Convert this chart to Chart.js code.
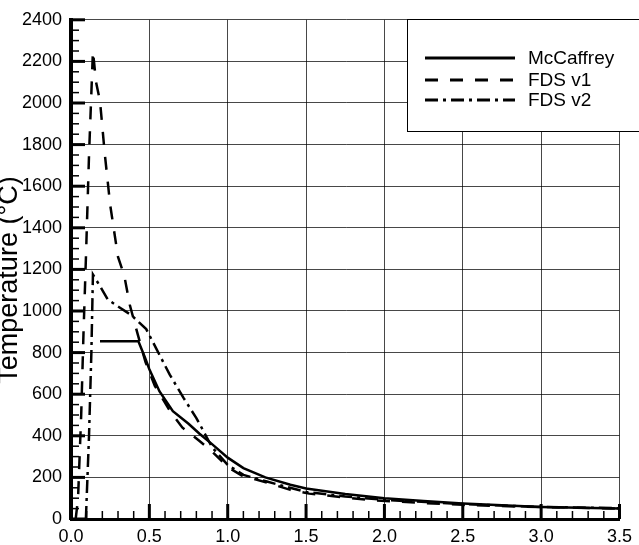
<!DOCTYPE html>
<html>
<head>
<meta charset="utf-8">
<script src="https://cdn.jsdelivr.net/npm/chart.js@4.4.1/dist/chart.umd.min.js"></script>
<style>
  html, body { margin: 0; padding: 0; background: #fff; overflow: hidden; }
  #wrap { width: 639px; height: 545px; overflow: hidden; }
</style>
</head>
<body>
<div id="wrap"><canvas id="tempChart" width="639" height="560"></canvas></div>
<script>
// distance (x) and temperature (°C)
const mcX = [0.185, 0.43, 0.47, 0.5, 0.565, 0.65, 0.75, 0.82, 0.9, 1.0, 1.1, 1.24, 1.4, 1.5, 1.75, 2.0, 2.25, 2.5, 2.75, 3.0, 3.25, 3.5];
const mcY = [855, 855, 780, 720, 613, 518, 458, 410, 360, 295, 245, 200, 165, 147, 120, 100, 86, 75, 66, 58, 54, 51];

const v1X = [0.03, 0.045, 0.065, 0.08, 0.095, 0.115, 0.13, 0.14, 0.16, 0.185, 0.215, 0.25, 0.30, 0.34, 0.375, 0.425, 0.475, 0.535, 0.635, 0.71, 0.82, 0.9, 1.0, 1.09, 1.25, 1.4, 1.52, 1.75, 1.93, 2.25, 2.5, 3.0, 3.5];
const v1Y = [0, 100, 500, 900, 1250, 1750, 2050, 2250, 2100, 2010, 1760, 1510, 1260, 1170, 1030, 890, 755, 640, 515, 440, 375, 325, 250, 209, 175, 140, 122, 103, 90, 77, 68, 57, 50];

const v2X = [0.095, 0.115, 0.13, 0.14, 0.185, 0.235, 0.31, 0.385, 0.48, 0.545, 0.63, 0.72, 0.80, 0.84, 0.9, 1.0, 1.1, 1.25, 1.5, 1.75, 2.0, 2.5, 3.0, 3.5];
const v2Y = [0, 400, 800, 1175, 1120, 1055, 1017, 980, 913, 818, 694, 580, 485, 430, 345, 260, 212, 180, 130, 108, 92, 72, 58, 52];

const seriesNames = ['McCaffrey', 'FDS v1', 'FDS v2'];
const xTicks = [0, 0.5, 1.0, 1.5, 2.0, 2.5, 3.0, 3.5];
const yTicks = [0, 200, 400, 600, 800, 1000, 1200, 1400, 1600, 1800, 2000, 2200, 2400];

const FONT = "'Liberation Sans', Arial, sans-serif";

function pts(xs, ys) {
  return xs.map((x, i) => ({ x: x, y: ys[i] }));
}

// y title sits behind the tick labels, like the original
const yTitle = {
  id: 'yTitle',
  beforeDraw(chart) {
    const ctx = chart.ctx;
    ctx.save();
    ctx.translate(17, 280);
    ctx.rotate(-Math.PI / 2);
    ctx.font = '27px ' + FONT;
    ctx.fillStyle = '#000';
    ctx.textAlign = 'center';
    ctx.textBaseline = 'alphabetic';
    ctx.fillText('Temperature (°C)', 0, 0);
    ctx.restore();
  }
};

// inward major / minor tick marks
const tickMarks = {
  id: 'tickMarks',
  afterDatasetsDraw(chart) {
    const ctx = chart.ctx;
    const xs = chart.scales.x, ys = chart.scales.y;
    const a = chart.chartArea;
    ctx.save();
    ctx.strokeStyle = '#000';
    for (let i = 0; i <= 48; i++) {
      const py = ys.getPixelForValue(i * 50);
      const major = i % 4 === 0;
      ctx.lineWidth = major ? 3 : 1.5;
      ctx.beginPath();
      ctx.moveTo(a.left, py);
      ctx.lineTo(a.left + (major ? 14 : 8), py);
      ctx.stroke();
    }
    for (let i = 0; i <= 35; i++) {
      const px = xs.getPixelForValue(i / 10);
      const major = i % 5 === 0;
      ctx.lineWidth = major ? 3 : 1.5;
      ctx.beginPath();
      ctx.moveTo(px, a.bottom);
      ctx.lineTo(px, a.bottom - (major ? 15 : 8));
      ctx.stroke();
    }
    ctx.restore();
  }
};

// legend box drawn inside the plot, top right
const boxLegend = {
  id: 'boxLegend',
  afterDraw(chart) {
    const ctx = chart.ctx;
    ctx.save();
    ctx.fillStyle = '#fff';
    ctx.strokeStyle = '#000';
    ctx.lineWidth = 1;
    ctx.fillRect(407, 19, 240, 112);
    ctx.strokeRect(407.5, 19.5, 240, 112);
    const rows = [58, 80, 100];
    chart.data.datasets.forEach((ds, i) => {
      ctx.setLineDash(ds.borderDash || []);
      ctx.lineWidth = 3;
      ctx.beginPath();
      ctx.moveTo(425, rows[i]);
      ctx.lineTo(515, rows[i]);
      ctx.stroke();
      ctx.setLineDash([]);
      ctx.font = '19px ' + FONT;
      ctx.fillStyle = '#000';
      ctx.textBaseline = 'middle';
      ctx.fillText(ds.label, 528, rows[i] + 1);
    });
    ctx.restore();
  }
};

const canvas = document.getElementById('tempChart');
const tempChart = new Chart(canvas, {
  type: 'line',
  data: {
    datasets: [
      { label: seriesNames[0], data: pts(mcX, mcY), borderColor: '#000', borderWidth: 2.5, borderDash: [] },
      { label: seriesNames[1], data: pts(v1X, v1Y), borderColor: '#000', borderWidth: 2.5, borderDash: [13, 12] },
      { label: seriesNames[2], data: pts(v2X, v2Y), borderColor: '#000', borderWidth: 2.5, borderDash: [13, 5, 3, 5] }
    ]
  },
  options: {
    responsive: false,
    animation: false,
    events: [],
    elements: { point: { radius: 0 }, line: { tension: 0, fill: false } },
    layout: { padding: { top: 14, right: 16, left: 0, bottom: 0 } },
    plugins: { legend: { display: false }, tooltip: { enabled: false } },
    scales: {
      x: {
        type: 'linear',
        min: 0,
        max: 3.5,
        afterBuildTicks(s) { s.ticks = xTicks.map(v => ({ value: v })); },
        afterFit(s) { s.height = 41; },
        ticks: {
          color: '#000',
          font: { family: FONT, size: 18 },
          padding: 7,
          maxRotation: 0,
          callback: v => v.toFixed(1)
        },
        grid: { color: 'rgba(0,0,0,0.72)', lineWidth: 1, drawTicks: false },
        border: { color: '#000', width: 3 }
      },
      y: {
        type: 'linear',
        min: 0,
        max: 2400,
        afterBuildTicks(s) { s.ticks = yTicks.map(v => ({ value: v })); },
        afterFit(s) { s.width = 71; },
        ticks: {
          color: '#000',
          font: { family: FONT, size: 18 },
          padding: 9,
          callback: v => String(v)
        },
        grid: { color: 'rgba(0,0,0,0.72)', lineWidth: 1, drawTicks: false },
        border: { color: '#000', width: 4 }
      }
    }
  },
  plugins: [yTitle, tickMarks, boxLegend]
});
</script>
</body>
</html>
